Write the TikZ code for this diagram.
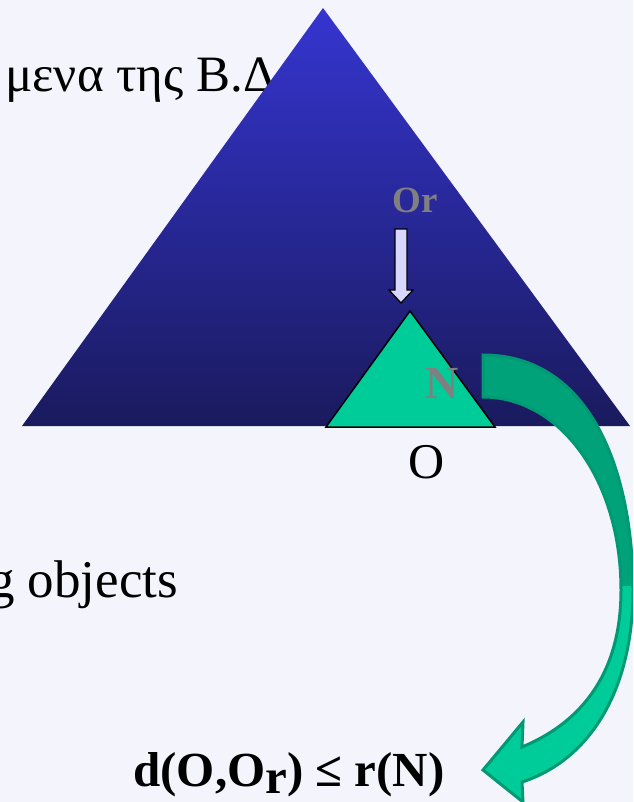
\documentclass[tikz,border=0pt]{standalone}
\usepackage{fontspec}
\setmainfont{Liberation Serif}
\definecolor{bg}{RGB}{244,244,252}
\definecolor{navytop}{RGB}{53,53,208}
\definecolor{navybot}{RGB}{26,26,94}
\definecolor{tealfill}{RGB}{0,204,153}
\definecolor{tealdark}{RGB}{0,162,121}
\definecolor{tealline}{RGB}{0,153,115}
\definecolor{lav}{RGB}{216,216,255}
\definecolor{lblgray}{RGB}{128,128,128}
\begin{document}
\begin{tikzpicture}[x=1pt,y=-1pt,
  plaintxt/.style={font=\fontsize{50}{60}\selectfont, inner sep=0pt},
  greektxt/.style={font=\fontsize{51}{60}\selectfont, inner sep=0pt},
  graylbl/.style={text=lblgray, inner sep=0pt},
  outline/.style={draw=black, line width=1.5pt, line join=miter}]
\useasboundingbox (0,0) rectangle (633,802);
\clip (0,0) rectangle (633,802);
\fill[bg] (0,0) rectangle (633,802);
% background texts
\node[greektxt, anchor=base west] (gr) at (5,92) {μενα της Β.Δ};
\node[plaintxt, anchor=base west, font=\fontsize{53}{62}\selectfont] (obj) at (-12,597) {g objects};
% big triangle
\coordinate (bt1) at (323,8);
\coordinate (bt2) at (630,426);
\coordinate (bt3) at (22,426);
\shade[top color=navytop, bottom color=navybot] (bt1) -- (bt2) -- (bt3) -- cycle;
% small triangle
\coordinate (st1) at (410,311);
\coordinate (st2) at (495,427);
\coordinate (st3) at (326,427);
\draw[outline, fill=tealfill] (st1) -- (st2) -- (st3) -- cycle;
% down arrow
\draw[outline, fill=lav, line width=1.3pt] (395,229) -- (407,229) -- (407,290) -- (413,290) -- (401,303) -- (389,290) -- (395,290) -- cycle;
\node[graylbl, font=\fontsize{37}{44}\selectfont\bfseries, anchor=base] (or) at (415,213) {Or};
\node[graylbl, font=\fontsize{46}{55}\selectfont\bfseries, anchor=base] (n) at (442,398) {N};
\node[plaintxt, anchor=base] (o) at (427,478) {O};
% curved arrow
\def\carrow{(483,355) .. controls (590,355) and (633,470) .. (633,590) .. controls (633,690) and (590,760) .. (522,782) -- (523,802) -- (483,770) -- (523,722) -- (522,747) .. controls (575,725) and (621,680) .. (621,590) .. controls (621,480) and (560,397) .. (483,397) -- cycle}
\fill[tealfill] \carrow;
\begin{scope}
\clip (0,0) rectangle (633,585);
\fill[tealdark] \carrow;
\end{scope}
\draw[tealline, line width=3pt, line join=miter] \carrow;
% formula
\node[font=\fontsize{49}{58}\selectfont\bfseries, inner sep=0pt, anchor=base] (f) at (289,786) {d(O,O\raisebox{-0.15em}{r}) ≤ r(N)};
\end{tikzpicture}
\end{document}
